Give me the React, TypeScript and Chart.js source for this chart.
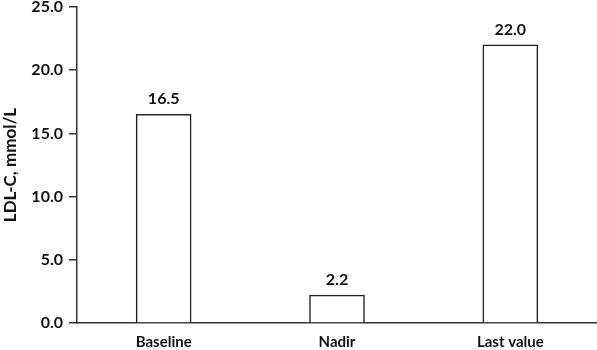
import React, { useEffect, useRef } from "react";
import { Chart, registerables } from "chart.js";

Chart.register(...registerables);

const categories = ["Baseline", "Nadir", "Last value"];
const values = [16.5, 2.2, 22.0];
const yMin = 0;
const yMax = 25;
const yStep = 5;
const yTitle = "LDL-C, mmol/L";

const FONT = "Lato, 'Open Sans', sans-serif";

const valueLabels = {
  id: "valueLabels",
  afterDatasetsDraw(chart: any) {
    const ctx = chart.ctx;
    const meta = chart.getDatasetMeta(0);
    ctx.save();
    ctx.fillStyle = "#111";
    ctx.font = `bold 16px ${FONT}`;
    ctx.textAlign = "center";
    ctx.textBaseline = "alphabetic";
    meta.data.forEach((bar: any, i: number) => {
      ctx.fillText(values[i].toFixed(1), bar.x, bar.y - 10);
    });
    ctx.restore();
  },
};

export default function App() {
  const ref = useRef<HTMLCanvasElement | null>(null);
  useEffect(() => {
    document.body.style.margin = "0";
    const chart = new Chart(ref.current!, {
      type: "bar",
      data: {
        labels: categories,
        datasets: [
          {
            data: values,
            backgroundColor: "#ffffff",
            borderColor: "#222",
            borderWidth: 1.5,
            barThickness: 55,
          },
        ],
      },
      plugins: [valueLabels],
      options: {
        animation: false,
        responsive: false,
        maintainAspectRatio: false,
        layout: { padding: { top: 7, right: 0, left: 0, bottom: 0 } },
        plugins: { legend: { display: false }, tooltip: { enabled: false } },
        scales: {
          x: {
            grid: { display: true, drawOnChartArea: false, drawTicks: false },
            border: { display: true, color: "#333", width: 1.5 },
            ticks: { color: "#111", font: { family: FONT, size: 15, weight: "bold" }, padding: 10 },
            afterFit(scale: any) {
              scale.height = 27;
              scale.paddingLeft = 0;
              scale.paddingRight = 0;
            },
          },
          y: {
            min: yMin,
            max: yMax,
            grid: { display: true, drawOnChartArea: false, drawTicks: true, tickLength: 8, color: "#333", lineWidth: 1.5 },
            border: { display: true, color: "#333", width: 1.5 },
            ticks: {
              stepSize: yStep,
              color: "#111",
              padding: 6,
              font: { family: FONT, size: 16, weight: "bold" },
              callback: (v: any) => Number(v).toFixed(1),
            },
            title: {
              display: true,
              text: yTitle,
              color: "#111",
              font: { family: FONT, size: 17, weight: "bold" },
              padding: { top: 0, bottom: 2 },
            },
            afterFit(scale: any) {
              scale.width = 77;
              scale.paddingTop = 0;
              scale.paddingBottom = 0;
            },
          },
        },
      },
    });
    return () => chart.destroy();
  }, []);
  return (
    <div style={{ width: 597, height: 350 }}>
      <canvas ref={ref} width={597} height={350} style={{ display: "block" }} />
    </div>
  );
}
